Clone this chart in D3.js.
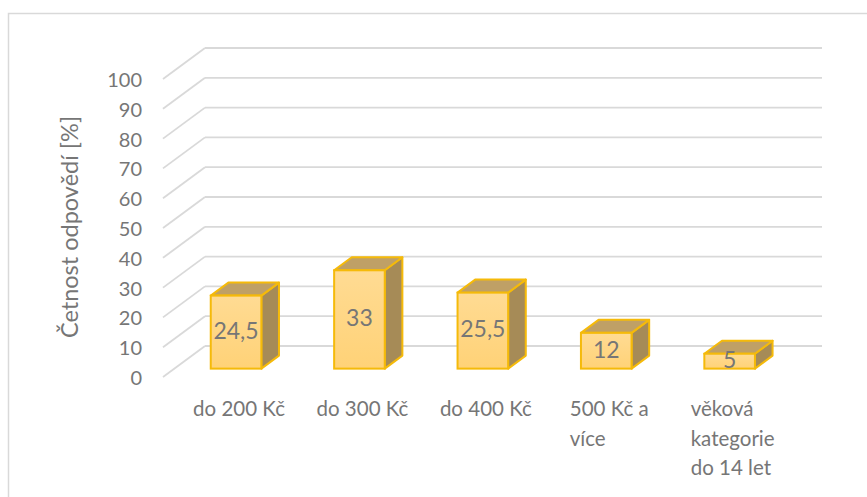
<!DOCTYPE html>
<html><head><meta charset="utf-8">
<script src="https://cdn.jsdelivr.net/npm/d3@7"></script>
<style>html,body{margin:0;padding:0;background:#fff;}svg{display:block;font-family:Lato,"Open Sans",sans-serif;}</style>
</head><body>
<svg id="c" width="867" height="497"></svg>
<script>
const categories = ["do 200 Kč", "do 300 Kč", "do 400 Kč", "500 Kč a více", "věková kategorie do 14 let"];
const values = [24.5, 33, 25.5, 12, 5];
const valueLabels = ["24,5", "33", "25,5", "12", "5"];
const yTicks = [0, 10, 20, 30, 40, 50, 60, 70, 80, 90, 100];
const yTitle = "Četnost odpovědí [%]";

const svg = d3.select("#c");
const textColor = "#767676";
const gridColor = "#d9d9d9";

// frame
svg.append("rect").attr("x", 8.5).attr("y", 13.5).attr("width", 880).attr("height", 520)
  .attr("fill", "none").attr("stroke", "#d9d9d9").attr("stroke-width", 1.5);

// pseudo-3D geometry
const depth = {dx: 42, dy: -31};
const y = d3.scaleLinear().domain([0, 100]).range([377, 79]);
const x = d3.scaleBand().domain(categories).range([163, 780]).paddingInner(0.59).paddingOuter(0.295);
const backRight = 822;
const barF0 = 0.27, barF1 = 0.69; // depth fractions for bar front/back

// gridlines: diagonal on side wall + horizontal on back wall
const g = svg.append("g");
yTicks.forEach(t => {
  const fy = y(t);
  g.append("line").attr("x1", x.range()[0]).attr("y1", fy)
    .attr("x2", x.range()[0] + depth.dx).attr("y2", fy + depth.dy)
    .attr("stroke", gridColor).attr("stroke-width", 1.8);
  g.append("line").attr("x1", x.range()[0] + depth.dx).attr("y1", fy + depth.dy)
    .attr("x2", backRight).attr("y2", fy + depth.dy)
    .attr("stroke", gridColor).attr("stroke-width", 1.8);
});

// tick labels
svg.append("g").selectAll("text").data(yTicks).join("text")
  .attr("x", 142).attr("y", d => y(d) + 3)
  .attr("text-anchor", "end").attr("dominant-baseline", "middle")
  .attr("fill", textColor).style("font-size", "20px").text(d => d);

// y title
svg.append("text").attr("transform", "translate(78,227) rotate(-90)")
  .attr("text-anchor", "middle").attr("fill", textColor)
  .style("font-size", "23.5px").text(yTitle);

// gradient for front face
const defs = svg.append("defs");
const grad = defs.append("linearGradient").attr("id", "fg").attr("x1", 0).attr("y1", 0).attr("x2", 0).attr("y2", 1);
grad.append("stop").attr("offset", "0%").attr("stop-color", "#FFDB93");
grad.append("stop").attr("offset", "100%").attr("stop-color", "#FFD277");

// bars
const bars = svg.append("g");
const border = "#F5BA0A";
categories.forEach((c, i) => {
  const v = values[i];
  const ox = depth.dx * barF0, oy = depth.dy * barF0;
  const bx = depth.dx * (barF1 - barF0), by = depth.dy * (barF1 - barF0);
  const x0 = x(c) + ox, x1 = x(c) + x.bandwidth() + ox;
  const yb = y(0) + oy, yt = y(v) + oy;
  // side
  bars.append("path").attr("d", `M${x1},${yt}L${x1+bx},${yt+by}L${x1+bx},${yb+by}L${x1},${yb}Z`)
    .attr("fill", "#A68B57").attr("stroke", border).attr("stroke-width", 2).attr("stroke-linejoin", "round");
  // top
  bars.append("path").attr("d", `M${x0},${yt}L${x0+bx},${yt+by}L${x1+bx},${yt+by}L${x1},${yt}Z`)
    .attr("fill", "#BFA066").attr("stroke", border).attr("stroke-width", 2).attr("stroke-linejoin", "round");
  // front
  bars.append("rect").attr("x", x0).attr("y", yt).attr("width", x1 - x0).attr("height", yb - yt)
    .attr("fill", "url(#fg)").attr("stroke", border).attr("stroke-width", 2);
  // value label
  bars.append("text").attr("x", (x0 + x1) / 2).attr("y", (yt + yb) / 2 + 1)
    .attr("text-anchor", "middle").attr("dominant-baseline", "middle")
    .attr("fill", textColor).style("font-size", "23px").text(valueLabels[i]);
});

// category labels with wrapping (left-aligned block centered on category)
const maxW = 105;
const lab = svg.append("g").style("font-size", "20.5px").attr("fill", textColor);
categories.forEach((c, i) => {
  const cx = x(c) + x.bandwidth() / 2 + depth.dx * barF0 + 3;
  const words = c.split(" ");
  const tmp = lab.append("text");
  const lines = [];
  let cur = "";
  words.forEach(w => {
    const test = cur ? cur + " " + w : w;
    tmp.text(test);
    if (cur && tmp.node().getComputedTextLength() > maxW) { lines.push(cur); cur = w; }
    else cur = test;
  });
  if (cur) lines.push(cur);
  let mw = 0;
  lines.forEach(l => { tmp.text(l); mw = Math.max(mw, tmp.node().getComputedTextLength()); });
  tmp.remove();
  lines.forEach((l, k) => {
    lab.append("text").attr("x", lines.length > 1 ? cx - mw / 2 : cx)
      .attr("text-anchor", lines.length > 1 ? "start" : "middle")
      .attr("y", 416 + k * 29.5).text(l);
  });
});
</script>
</body></html>
